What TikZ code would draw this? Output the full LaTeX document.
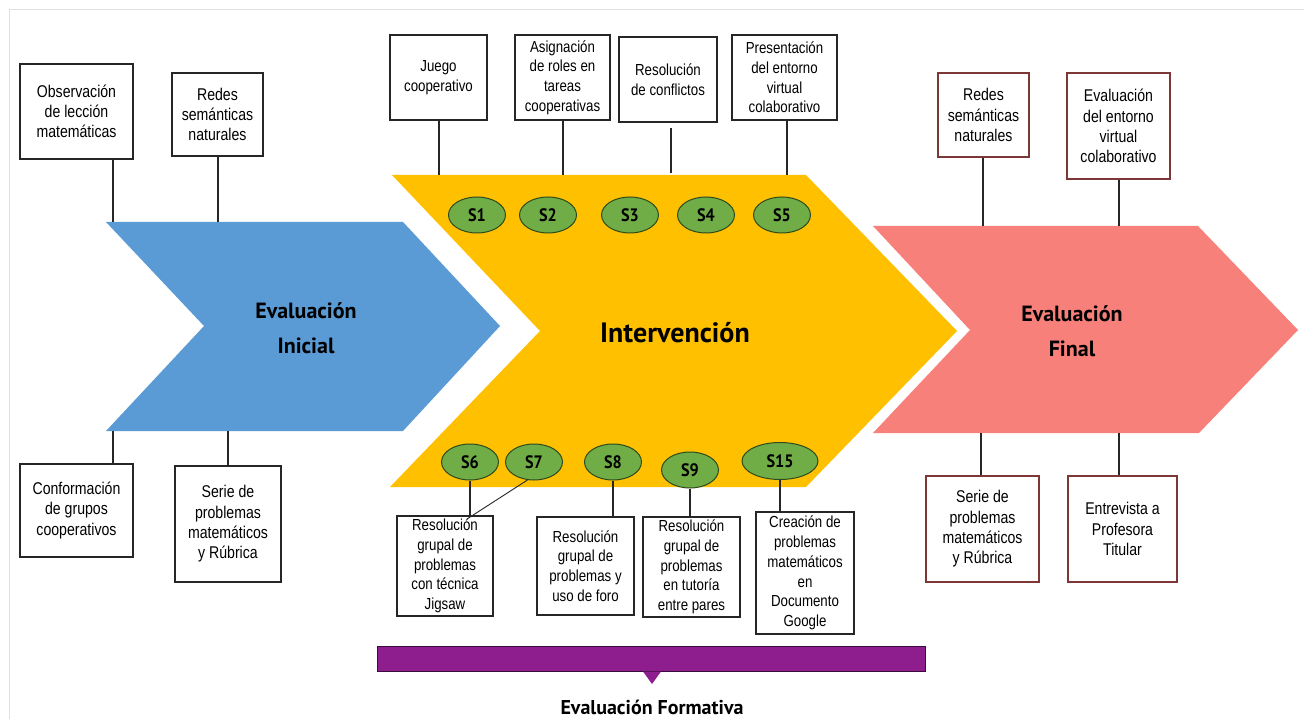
\documentclass[tikz,border=0pt]{standalone}
\usepackage{fontspec}
\setmainfont{Liberation Sans}
\newfontfamily\bxfont[FakeStretch=0.83]{Liberation Sans}
\newfontfamily\gillfont{PT Sans}
\newfontfamily\gillnarrow[FakeStretch=0.9]{PT Sans}
\usetikzlibrary{calc,shapes.geometric}
\definecolor{cblue}{RGB}{91,155,213}
\definecolor{cyellow}{RGB}{255,192,0}
\definecolor{cred}{RGB}{247,128,122}
\definecolor{cgreen}{RGB}{112,173,71}
\definecolor{cgreenD}{RGB}{45,75,28}
\definecolor{cpurple}{RGB}{142,30,142}
\definecolor{cbrown}{RGB}{125,55,55}
\tikzset{
  box/.style={draw=black!85, line width=1.1pt, fill=white, align=center, inner sep=1pt,
    font=\bxfont\fontsize{17}{20.3}\selectfont},
  mbox/.style={box, font=\bxfont\fontsize{16}{19.7}\selectfont},
  rbox/.style={box, draw=cbrown},
  sess/.style={ellipse, draw=cgreenD, line width=1pt, fill=cgreen, minimum width=57pt,
    minimum height=36pt, inner sep=0pt, font=\gillnarrow\bfseries\fontsize{18}{18}\selectfont},
  conn/.style={draw=black!85, line width=1.1pt},
  chev/.style={align=center, font=\gillfont\bfseries\fontsize{22}{35}\selectfont},
}
\begin{document}
\begin{tikzpicture}[x=1pt,y=-1pt]
\useasboundingbox (0,0) rectangle (1304,719);
\fill[white] (0,0) rectangle (1304,719);
\draw[black!12, line width=1pt] (9,719) -- (9,10) -- (1304,10);

% chevrons
\fill[cblue] (106,222) -- (403,222) -- (500,326) -- (403,431) -- (106,431) -- (204,326) -- cycle;
\fill[cyellow] (392,175) -- (806,175) -- (957,331) -- (806,487) -- (390,487) -- (540,331) -- cycle;
\fill[cred] (873,226) -- (1198,226) -- (1298,330) -- (1199,433) -- (873,433) -- (970,330) -- cycle;

\node[chev] (LI) at (306,328) {Evaluación\\Inicial};
\node[chev, font=\gillfont\bfseries\fontsize{28}{28}\selectfont] (LM) at (675,333) {Intervención};
\node[chev] (LF) at (1072,331) {Evaluación\\Final};

% anchor points on chevron edges
\coordinate (bt1) at (113,222);
\coordinate (bt2) at (218,222);
\coordinate (bb1) at (113,431);
\coordinate (bb2) at (228,431);
\coordinate (yt1) at (439,175);
\coordinate (yt2) at (563,175);
\coordinate (yt3) at (671,173);
\coordinate (yt4) at (787,175);
\coordinate (rt1) at (983,226);
\coordinate (rt2) at (1119,226);
\coordinate (rb1) at (981,433);
\coordinate (rb2) at (1119,433);

% left boxes
\node[box, minimum width=113pt, minimum height=95pt] (A1) at (76.5,111.5) {Observación\\de lección\\matemáticas};
\node[box, minimum width=91pt, minimum height=83pt] (A2) at (217.5,114.5) {Redes\\semánticas\\naturales};
\node[box, minimum width=113pt, minimum height=93pt] (A3) at (76.5,510.5) {Conformación\\de grupos\\cooperativos};
\node[box, minimum width=106pt, minimum height=116pt] (A4) at (228,524) {Serie de\\problemas\\matemáticos\\y Rúbrica};

% top middle boxes
\node[mbox, minimum width=97pt, minimum height=85pt] (B1) at (438.5,77.5) {Juego\\cooperativo};
\node[mbox, minimum width=95pt, minimum height=85pt] (B2) at (562.5,77.5) {Asignación\\de roles en\\tareas\\cooperativas};
\node[mbox, minimum width=98pt, minimum height=85pt] (B3) at (668,79.5) {Resolución\\de conflictos};
\node[mbox, minimum width=105pt, minimum height=85pt] (B4) at (784.5,77.5) {Presentación\\del entorno\\virtual\\colaborativo};

% right boxes
\node[rbox, minimum width=91pt, minimum height=84pt] (D1) at (983.5,115) {Redes\\semánticas\\naturales};
\node[rbox, minimum width=103pt, minimum height=106pt] (D2) at (1118.5,126) {Evaluación\\del entorno\\virtual\\colaborativo};
\node[rbox, minimum width=113pt, minimum height=106pt] (D3) at (982.5,529) {Serie de\\problemas\\matemáticos\\y Rúbrica};
\node[rbox, minimum width=109pt, minimum height=106pt] (D4) at (1122.5,529) {Entrevista a\\Profesora\\Titular};

% bottom middle boxes
\node[mbox, minimum width=96pt, minimum height=100pt] (C1) at (445,566) {Resolución\\grupal de\\problemas\\con técnica\\Jigsaw};
\node[mbox, minimum width=97pt, minimum height=98pt] (C2) at (585.5,566) {Resolución\\grupal de\\problemas y\\uso de foro};
\node[mbox, minimum width=97pt, minimum height=100pt] (C3) at (691.5,567) {Resolución\\grupal de\\problemas\\en tutoría\\entre pares};
\node[mbox, minimum width=98pt, minimum height=122pt] (C4) at (805,573) {Creación de\\problemas\\matemáticos\\en\\Documento\\Google};

% sessions
\node[sess] (S1) at (477,215) {S1};
\node[sess] (S2) at (548,215) {S2};
\node[sess] (S3) at (630,215) {S3};
\node[sess] (S4) at (706,215) {S4};
\node[sess] (S5) at (782,215) {S5};
\node[sess] (S6) at (470,462) {S6};
\node[sess] (S7) at (534,462) {S7};
\node[sess] (S8) at (613,462) {S8};
\node[sess] (S9) at (690,470) {S9};
\node[sess, minimum width=76pt, minimum height=37pt] (S15) at (780,461) {S15};
\coordinate (c1a) at (467,519);

% connectors
\draw[conn] (bt1 |- A1.south) -- (bt1);
\draw[conn] (bt2 |- A2.south) -- (bt2);
\draw[conn] (bb1) -- (bb1 |- A3.north);
\draw[conn] (bb2) -- (bb2 |- A4.north);
\draw[conn] (yt1 |- B1.south) -- (yt1);
\draw[conn] (yt2 |- B2.south) -- (yt2);
\draw[conn, shorten <=5pt] (yt3 |- B3.south) -- (yt3);
\draw[conn] (yt4 |- B4.south) -- (yt4);
\draw[conn] (rt1 |- D1.south) -- (rt1);
\draw[conn] (rt2 |- D2.south) -- (rt2);
\draw[conn] (rb1) -- (rb1 |- D3.north);
\draw[conn] (rb2) -- (rb2 |- D4.north);
\draw[conn] (S6.south) -- (S6.south |- C1.north);
\draw[conn, line width=0.9pt] (S7.250) -- (c1a);
\draw[conn] (S8.south) -- (S8.south |- C2.north);
\draw[conn] (S9.south) -- (S9.south |- C3.north);
\draw[conn] (S15.south) -- (S15.south |- C4.north);

% formative evaluation bar
\node[draw=black!60!cpurple, line width=1pt, fill=cpurple, minimum width=548pt, minimum height=25pt, inner sep=0pt] (FB) at (651,659) {};
\fill[cpurple] (643,671.5) -- (661,671.5) -- (652,684) -- cycle;
\node[font=\gillfont\bfseries\fontsize{20}{20}\selectfont] (EF) at (652,707) {Evaluación Formativa};
\end{tikzpicture}
\end{document}
